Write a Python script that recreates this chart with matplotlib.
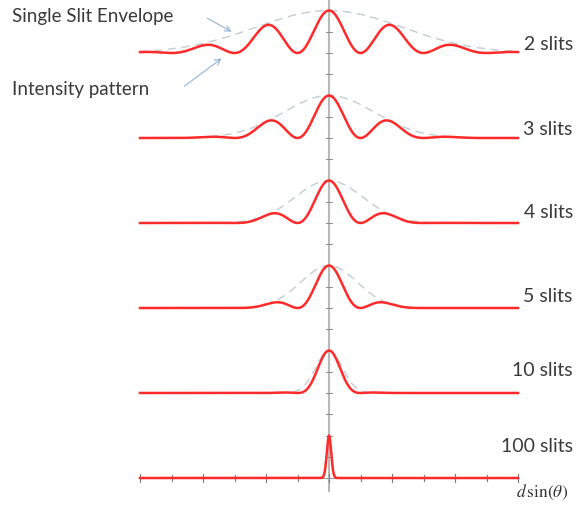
"""
N-slit interference: intensity pattern under the single slit envelope
"""

import matplotlib.pyplot as plt
import numpy as np

plt.rcParams['font.family'] = ['Lato', 'DejaVu Sans']
plt.rcParams['mathtext.fontset'] = 'stix'

# Data (x in units of the fringe spacing)
slit_counts = [2, 3, 4, 5, 10, 100]
row_labels = ["2 slits", "3 slits", "4 slits", "5 slits", "10 slits", "100 slits"]
envelope_width = [1.16, 0.72, 0.54, 0.45, 0.21, 0.04]  # width of dashed envelope
pattern_width = [1.08, 0.72, 0.54, 0.45, 0.27, 0.035]  # width of red pattern
fringe_period = 1.0
x_range = (-3.0, 3.0)

# Layout
row_gap = 2.0  # vertical offset between rows
label_lift = [0.19, 0.21, 0.24, 0.26, 0.54, 0.73]

fig = plt.figure(figsize=(5.8, 5.05), dpi=100)
ax = fig.add_axes([0, 0, 1, 1])
ax.set_xlim(-329 / 63, 251 / 63)
ax.set_ylim(-27 / 42.5, 478 / 42.5)
ax.axis('off')

x = np.linspace(x_range[0], x_range[1], 2401)

# central vertical axis with small ticks
ax.plot([0, 0], [-0.3, 11.35], color='#b8b8b8', lw=1.5, zorder=1)
for yt in np.arange(0, 11.01, 0.5):
    ax.plot([-0.045, 0.045], [yt, yt], color='#8a8a8a', lw=0.7, zorder=2)

# bottom axis ticks
for xt in np.arange(x_range[0], x_range[1] + 0.01, 0.5):
    half = 0.1 if abs(xt - round(xt)) < 1e-9 else 0.06
    ax.plot([xt, xt], [-half, half], color='#7a7a7a', lw=0.8, zorder=2)
ax.plot(x_range, [0, 0], color='#9a9a9a', lw=0.8, zorder=2)

n_rows = len(slit_counts)
for i in range(n_rows):
    base = row_gap * (n_rows - 1 - i)
    envelope = np.exp(-x ** 2 / (2 * envelope_width[i] ** 2))
    pattern = np.exp(-x ** 2 / (2 * pattern_width[i] ** 2)) * np.cos(np.pi * x / fringe_period) ** 2
    ax.plot(x, base + envelope, color='#c3ccd4', lw=1.0, dashes=(6, 4), zorder=3)
    ax.plot(x, base + pattern, color='#ff2a2a', lw=1.8, zorder=4)
    ax.text(3.87, base + label_lift[i], row_labels[i], ha='right', va='center',
            fontsize=14, color='#3a3a3a')

# annotations
ax.text(-5.03, 10.85, "Single Slit Envelope", ha='left', va='center', fontsize=13.5, color='#3a3a3a')
ax.text(-5.03, 9.13, "Intensity pattern", ha='left', va='center', fontsize=13.5, color='#3a3a3a')
ax.annotate('', xy=(-1.51, 10.47), xytext=(-1.97, 10.85),
            arrowprops=dict(arrowstyle='->', color='#8fb3d6', lw=0.8))
ax.annotate('', xy=(-1.67, 9.91), xytext=(-2.33, 9.18),
            arrowprops=dict(arrowstyle='->', color='#8fb3d6', lw=0.8))

ax.text(3.38, -0.33, r'$d\,\sin(\theta)$', ha='center', va='center', fontsize=12.5, color='#333333')

fig.savefig('out.png', dpi=100)
